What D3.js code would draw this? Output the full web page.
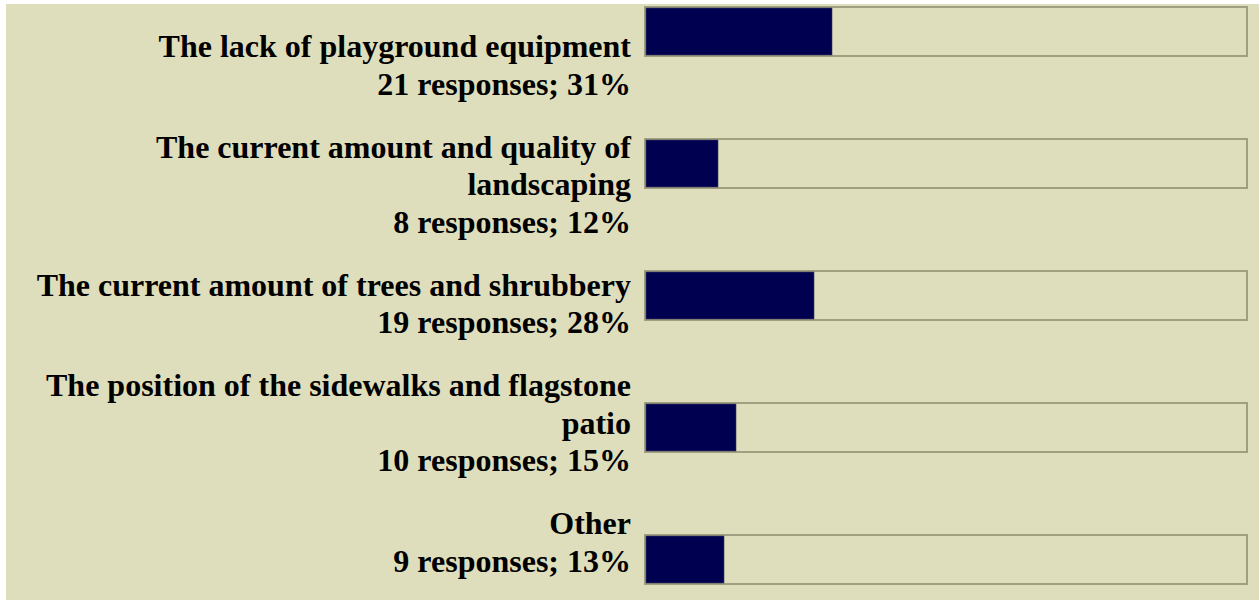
<!DOCTYPE html>
<html>
<head>
<meta charset="utf-8">
<script src="https://cdn.jsdelivr.net/npm/d3@7"></script>
<style>
  html, body { margin: 0; padding: 0; background: #ffffff; }
  svg { display: block; }
</style>
</head>
<body>
<script>
// Données du graphique
const categories = [
  "The lack of playground equipment",
  "The current amount and quality of landscaping",
  "The current amount of trees and shrubbery",
  "The position of the sidewalks and flagstone patio",
  "Other"
];
const responses = [21, 8, 19, 10, 9];
const percents = [31, 12, 28, 15, 13];

// Dimensions
const width = 1259;
const height = 601;
const fontSize = 32;
const lineHeight = 37.5;
const rowGap = 25.5;
const labelRight = 631;
const labelMaxWidth = 600;

const svg = d3
  .select("body")
  .append("svg")
  .attr("width", width)
  .attr("height", height);

// fond beige
svg
  .append("rect")
  .attr("x", 6)
  .attr("y", 4)
  .attr("width", width - 6)
  .attr("height", 596)
  .attr("fill", "#dedebd");

// Échelles
const xScale = d3.scaleLinear().domain([0, 100]).range([646, 1246]);
const yScale = d3.scalePoint().domain(categories).range([6, 534]);

// découpage des libellés en lignes (mesure du texte)
const measure = svg
  .append("text")
  .attr("font-family", "'Liberation Serif', 'Times New Roman', serif")
  .attr("font-weight", "bold")
  .attr("font-size", fontSize + "px")
  .attr("visibility", "hidden");

function wrap(label) {
  const words = label.split(" ");
  const lines = [];
  let current = "";
  words.forEach((w) => {
    const test = current ? current + " " + w : w;
    measure.text(test);
    if (current && measure.node().getComputedTextLength() > labelMaxWidth) {
      lines.push(current);
      current = w;
    } else {
      current = test;
    }
  });
  lines.push(current);
  return lines;
}

const rows = categories.map((c, i) => ({
  category: c,
  lines: wrap(c).concat([`${responses[i]} responses; ${percents[i]}%`]),
  pct: percents[i]
}));
measure.remove();

// position des lignes de texte (flux vertical)
let baseline = 57;
rows.forEach((r) => {
  r.baselines = r.lines.map((l, j) => baseline + j * lineHeight);
  baseline += r.lines.length * lineHeight + rowGap;
});

// Libellés
const labels = svg
  .append("g")
  .attr("font-family", "'Liberation Serif', 'Times New Roman', serif")
  .attr("font-weight", "bold")
  .attr("font-size", fontSize + "px")
  .attr("fill", "#000000")
  .attr("text-anchor", "end");

labels
  .selectAll("text")
  .data(rows.flatMap((r) => r.lines.map((l, j) => ({ text: l, y: r.baselines[j] }))))
  .join("text")
  .attr("x", labelRight)
  .attr("y", (d) => d.y)
  .text((d) => d.text);

// Barres
const bars = svg.append("g").selectAll("g").data(rows).join("g");

bars
  .append("rect")
  .attr("x", xScale(0) - 1)
  .attr("y", (d) => yScale(d.category) + 1)
  .attr("width", xScale(100) - xScale(0) + 2)
  .attr("height", 49)
  .attr("fill", "#dedebd")
  .attr("stroke", "#a09f7f")
  .attr("stroke-width", 2);

bars
  .append("rect")
  .attr("x", xScale(0))
  .attr("y", (d) => yScale(d.category) + 2)
  .attr("width", (d) => xScale(d.pct) - xScale(0))
  .attr("height", 47)
  .attr("fill", "#000050")
  .attr("stroke", "#3a3a5e")
  .attr("stroke-width", 0.6);
</script>
</body>
</html>
